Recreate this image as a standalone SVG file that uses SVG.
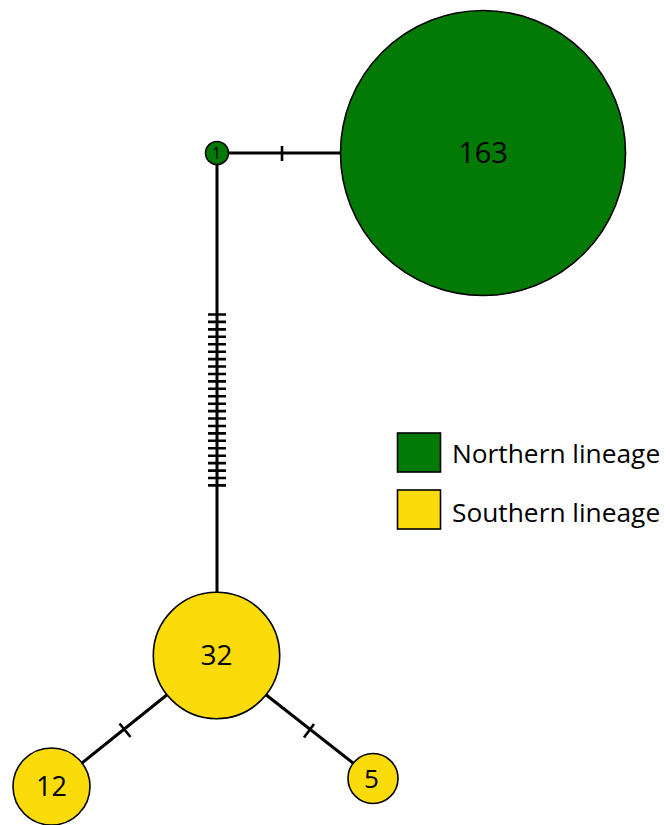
<svg xmlns="http://www.w3.org/2000/svg" width="670" height="825" viewBox="0 0 670 825">
  <defs>
    <style>
      .edge { stroke: #000; stroke-width: 3; fill: none; }
      .tick { stroke: #000; stroke-width: 2.6; fill: none; }
      .north { fill: #037a05; stroke: #000; stroke-width: 1.6; }
      .south { fill: #fbdc0a; stroke: #000; stroke-width: 1.6; }
      .lbl { font-family: "Open Sans", "Noto Sans", sans-serif; fill: #000; text-anchor: middle; }
      .leg { font-family: "Open Sans", "Noto Sans", sans-serif; fill: #000; font-size: 26.3px; }
    </style>
  </defs>
  <rect width="670" height="825" fill="#fff"/>

  <g id="connectors">
    <!-- hap 1 to hap 163 -->
    <line class="edge" x1="217" y1="153" x2="341" y2="153"/>
    <line class="tick" x1="282" y1="146" x2="282" y2="161"/>
    <!-- hap 1 to hap 32 -->
    <line class="edge" x1="217" y1="153" x2="217" y2="593"/>
    <path class="tick" d="M208 314.5h18M208 321.9h18M208 329.4h18M208 336.8h18M208 344.2h18M208 351.7h18M208 359.1h18M208 366.5h18M208 374h18M208 381.4h18M208 388.8h18M208 396.3h18M208 403.7h18M208 411.1h18M208 418.5h18M208 426h18M208 433.4h18M208 440.8h18M208 448.3h18M208 455.7h18M208 463.1h18M208 470.6h18M208 478h18M208 485.4h18"/>
    <!-- hap 32 to hap 12 -->
    <line class="edge" x1="168" y1="694" x2="82" y2="763"/>
    <line class="tick" x1="119.5" y1="723.5" x2="130.5" y2="737"/>
    <!-- hap 32 to hap 5 -->
    <line class="edge" x1="265" y1="694" x2="353" y2="763"/>
    <line class="tick" x1="314" y1="724" x2="304" y2="737.5"/>
  </g>

  <g id="hap-1">
    <circle class="north" cx="217" cy="153" r="11.5"/>
    <text class="lbl" x="216.5" y="159" font-size="16.5">1</text>
  </g>

  <g id="hap-163">
    <circle class="north" cx="483" cy="153" r="142.5"/>
    <text class="lbl" x="483" y="162.5" font-size="29">163</text>
  </g>

  <g id="hap-32">
    <circle class="south" cx="216.5" cy="655.5" r="63.2"/>
    <text class="lbl" x="216.5" y="664.5" font-size="28">32</text>
  </g>

  <g id="hap-12">
    <circle class="south" cx="51.5" cy="786.5" r="38.5"/>
    <text class="lbl" x="51.5" y="796" font-size="27">12</text>
  </g>

  <g id="hap-5">
    <circle class="south" cx="373" cy="778.5" r="25"/>
    <text class="lbl" x="371.5" y="788" font-size="26">5</text>
  </g>

  <g id="legend">
    <rect class="north" x="397.5" y="433" width="43" height="39" stroke-width="2"/>
    <text class="leg" x="452" y="463">Northern lineage</text>
    <rect class="south" x="397.5" y="490" width="43" height="39" stroke-width="2"/>
    <text class="leg" x="452" y="521.5">Southern lineage</text>
  </g>
</svg>
